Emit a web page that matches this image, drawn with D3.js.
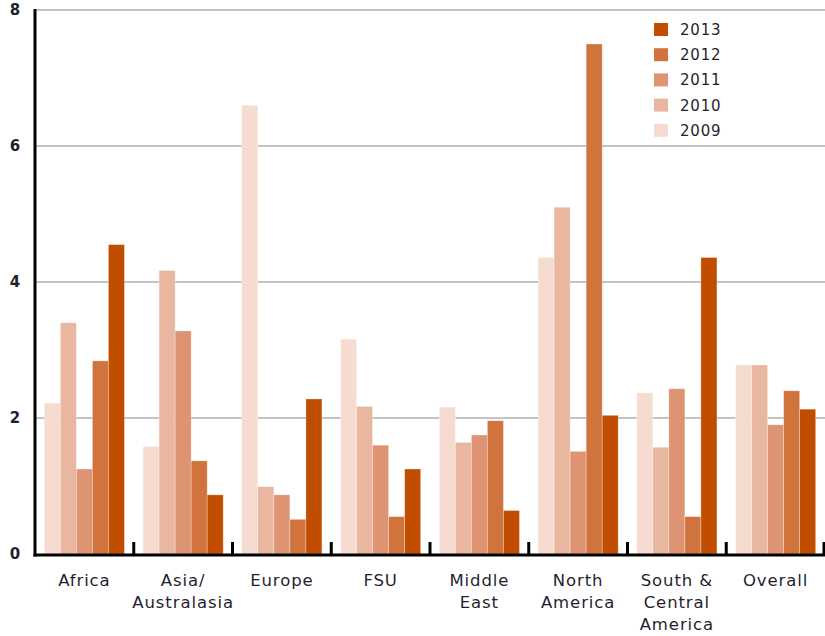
<!DOCTYPE html>
<html>
<head>
<meta charset="utf-8">
<script src="https://cdn.jsdelivr.net/npm/d3@7/dist/d3.min.js"></script>
<style>
  html, body { margin: 0; padding: 0; background: #fff; }
  svg { display: block; }
  text { font-family: "DejaVu Sans", sans-serif; fill: #1f1f30; }
</style>
</head>
<body>
<svg id="chart" width="825" height="636"></svg>
<script>
// Regions along the x axis (multi-line labels split on "\n")
const regions = ["Africa", "Asia/\nAustralasia", "Europe", "FSU", "Middle\nEast",
                 "North\nAmerica", "South &\nCentral\nAmerica", "Overall"];
const years = ["2009", "2010", "2011", "2012", "2013"];

// One array per year, in region order
const v2009 = [2.22, 1.58, 6.60, 3.16, 2.16, 4.36, 2.37, 2.78];
const v2010 = [3.40, 4.17, 0.99, 2.17, 1.64, 5.10, 1.57, 2.78];
const v2011 = [1.25, 3.28, 0.87, 1.60, 1.75, 1.51, 2.43, 1.90];
const v2012 = [2.84, 1.37, 0.51, 0.55, 1.96, 7.50, 0.55, 2.40];
const v2013 = [4.55, 0.87, 2.28, 1.25, 0.64, 2.04, 4.36, 2.13];

const yTicks = [0, 2, 4, 6, 8];
const colors = ["#f6dcd0", "#e9b7a0", "#de9472", "#d1733d", "#c14e00"];

const series = [v2009, v2010, v2011, v2012, v2013];

const svg = d3.select("#chart");
const mLeft = 35, mRight = 825, mTop = 10, mBottom = 554;

const x0 = d3.scaleBand().domain(regions).range([mLeft, mRight]).paddingInner(0).paddingOuter(0);
const x1 = d3.scaleBand().domain(years).range([0, x0.bandwidth()]).paddingInner(0).paddingOuter(0.58);
const y = d3.scaleLinear().domain([0, 8]).range([mBottom, mTop]);
const color = d3.scaleOrdinal().domain(years).range(colors);

// Horizontal gridlines
svg.append("g")
  .selectAll("line")
  .data(yTicks.filter(d => d > 0))
  .join("line")
  .attr("x1", mLeft).attr("x2", mRight)
  .attr("y1", d => y(d)).attr("y2", d => y(d))
  .attr("stroke", "#c4c4c4").attr("stroke-width", 2);

// Bars
const rows = regions.map((r, i) => ({ region: r, values: years.map((yr, j) => ({ year: yr, value: series[j][i] })) }));
svg.append("g")
  .selectAll("g")
  .data(rows)
  .join("g")
  .attr("transform", d => `translate(${x0(d.region)},0)`)
  .selectAll("rect")
  .data(d => d.values)
  .join("rect")
  .attr("x", d => x1(d.year))
  .attr("width", x1.bandwidth())
  .attr("y", d => y(d.value))
  .attr("height", d => y(0) - y(d.value))
  .attr("fill", d => color(d.year))
  .attr("stroke", "#ffffff").attr("stroke-opacity", 0.5).attr("stroke-width", 0.6);

// Y axis labels
const yAxis = d3.axisLeft(y).tickValues(yTicks).tickSize(0).tickPadding(0).tickFormat(d3.format("d"));
const ya = svg.append("g").attr("transform", `translate(${mLeft},0)`).call(yAxis);
ya.select(".domain").remove();
ya.selectAll("text")
  .attr("x", -20).attr("text-anchor", "middle")
  .style("font-size", "15px").style("font-weight", "bold")
  .style("font-family", "'DejaVu Sans', sans-serif").attr("fill", "#1f1f30");

// Axis lines
svg.append("line").attr("x1", mLeft).attr("x2", mLeft).attr("y1", mTop - 1).attr("y2", mBottom + 2.5)
  .attr("stroke", "#000").attr("stroke-width", 3);
svg.append("line").attr("x1", mLeft - 1.5).attr("x2", mRight).attr("y1", mBottom + 1).attr("y2", mBottom + 1)
  .attr("stroke", "#000").attr("stroke-width", 3);

// Upward ticks at region boundaries
const bounds = regions.slice(1).map(r => x0(r)).concat([mRight - 1]);
svg.append("g").selectAll("line").data(bounds).join("line")
  .attr("x1", d => d).attr("x2", d => d)
  .attr("y1", mBottom - 12).attr("y2", mBottom + 1)
  .attr("stroke", "#000").attr("stroke-width", 3);

// Region labels
const lab = svg.append("g").selectAll("text").data(regions).join("text")
  .attr("x", d => x0(d) + x0.bandwidth() / 2)
  .attr("y", 586)
  .attr("text-anchor", "middle")
  .style("font-size", "16.5px")
  .style("letter-spacing", "0.9px");
lab.selectAll("tspan").data(d => d.split("\n")).join("tspan")
  .attr("x", function () { return d3.select(this.parentNode).attr("x"); })
  .attr("dy", (d, i) => i === 0 ? 0 : 22)
  .text(d => d);

// Legend (2013 at top)
const legendYears = years.slice().reverse();
const lg = svg.append("g").selectAll("g").data(legendYears).join("g")
  .attr("transform", (d, i) => `translate(654,${23 + i * 25.2})`);
lg.append("rect").attr("width", 14).attr("height", 13).attr("fill", d => color(d));
lg.append("text").attr("x", 26).attr("y", 12)
  .style("font-size", "15px").style("letter-spacing", "0.8px")
  .text(d => d);
</script>
</body>
</html>
